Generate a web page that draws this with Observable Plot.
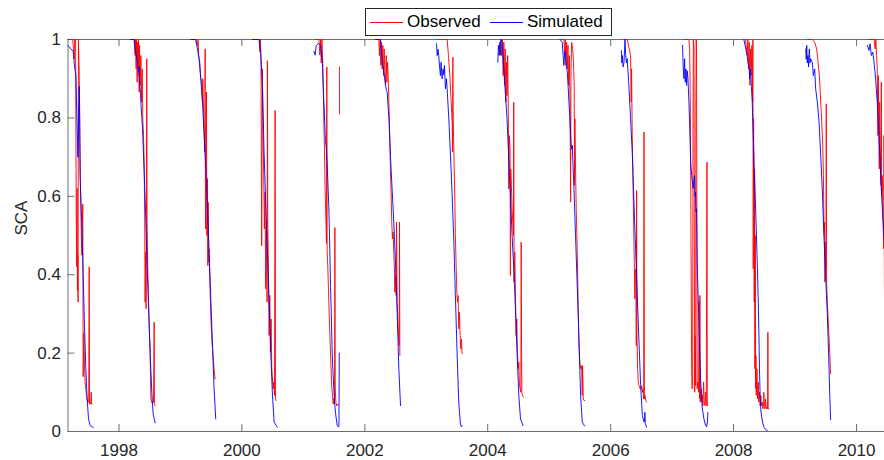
<!DOCTYPE html>
<html><head><meta charset="utf-8">
<script src="https://cdn.jsdelivr.net/npm/d3@7"></script>
<script src="https://cdn.jsdelivr.net/npm/@observablehq/plot@0.6"></script>
<style>
body{margin:0;background:#fff;}
#wrap{position:relative;width:884px;height:460px;font-family:"Liberation Sans",Arial,sans-serif;}
#legend{position:absolute;left:365px;top:8px;width:247px;height:28px;border:1px solid #262626;background:#fff;box-sizing:border-box;font-size:17px;color:#000;}
#legend .sw{position:absolute;top:13px;width:33px;height:0;border-top:1px solid;}
#legend .lb{position:absolute;top:3px;line-height:20px;}
</style></head>
<body><div id="wrap"><div id="legend">
<span class="sw" style="left:4px;border-color:#ff0000"></span><span class="lb" style="left:41px">Observed</span>
<span class="sw" style="left:124px;border-color:#0000ff"></span><span class="lb" style="left:161px">Simulated</span>
</div></div>
<script>
// [day of year, SCA] per melt season; null breaks a line
const seasons = [1997,1998,1999,2000,2001,2002,2003,2004,2005,2006,2007,2008,2009,2010];

const sim1997 = [[62,0.985],[79,0.976],[93,0.97],[101,0.93],[109,0.91],[115,0.8],[121,0.7],[125,0.8],[129,0.88],[134,0.65],[144,0.53],[152,0.4],[160,0.27],[168,0.16],[176,0.083],[184,0.032],[194,0.015],[212,0.01]];
const sim1998 = [[68,1],[90,1],[96,0.976],[110,0.942],[116,0.917],[120,0.93],[124,0.883],[128,0.86],[132,0.827],[140,0.772],[149,0.67],[159,0.55],[169,0.4],[179,0.28],[187,0.18],[195,0.1],[203,0.045],[215,0.022]];
const sim1999 = [[62,1],[91,1],[101,0.976],[111,0.951],[121,0.9],[131,0.84],[141,0.755],[151,0.67],[161,0.568],[170,0.466],[180,0.347],[190,0.228],[200,0.109],[210,0.032]];
const sim2000 = [[63,1],[103,1],[112,0.968],[122,0.883],[128,0.789],[132,0.713],[142,0.585],[152,0.457],[162,0.33],[172,0.202],[182,0.092],[192,0.024],[211,0.011]];
const sim2001 = [[62,0.97],[70,0.96],[76,0.985],[90,0.99],[102,0.985],[112,0.946],[121,0.844],[131,0.742],[137,0.717],[144,0.65],[151,0.572],[158,0.44],[161,0.37],[165,0.31],[171,0.2],[176,0.15],[181,0.105],[186,0.07],[191,0.046],[201,0.015],[207,0.012],[211,0.012],[213,0.2]];
const sim2002 = [[63,1],[93,1],[103,0.942],[108,0.93],[113,0.917],[118,0.9],[123,0.883],[128,0.87],[133,0.866],[138,0.83],[143,0.798],[152,0.704],[162,0.619],[172,0.534],[182,0.432],[192,0.304],[202,0.16],[212,0.066]];
const sim2003 = [[61,0.989],[65,0.959],[70,0.975],[74,0.959],[79,0.93],[84,0.908],[88,0.942],[94,0.9],[100,0.925],[104,0.91],[108,0.934],[114,0.874],[120,0.9],[124,0.874],[134,0.798],[143,0.713],[153,0.611],[164,0.483],[173,0.347],[183,0.202],[193,0.075],[203,0.02],[208,0.012],[213,0.015]];
const sim2004 = [[60,0.942],[64,0.985],[68,0.959],[72,0.993],[76,0.96],[80,1],[86,0.993],[90,0.97],[96,0.925],[106,0.857],[115,0.798],[125,0.696],[135,0.602],[145,0.5],[155,0.415],[165,0.313],[175,0.194],[185,0.092],[195,0.032],[210,0.015]];
const sim2005 = [[63,1],[77,0.993],[82,0.96],[87,0.934],[92,0.97],[97,0.959],[102,0.93],[107,0.917],[112,0.88],[117,0.84],[122,0.8],[127,0.755],[132,0.72],[137,0.73],[141,0.68],[146,0.628],[156,0.5],[166,0.372],[176,0.245],[186,0.092],[196,0.024],[210,0.014]];
const sim2006 = [[63,0.972],[66,0.94],[69,0.959],[74,0.93],[79,0.942],[85,1],[89,0.959],[94,0.94],[98,0.951],[108,0.883],[118,0.798],[128,0.713],[138,0.585],[148,0.466],[158,0.347],[168,0.228],[178,0.117],[188,0.041],[198,0.024],[201,0.03],[203,0.049],[206,0.02],[213,0.011]];
const sim2007 = [[62,0.985],[66,0.925],[70,0.9],[74,0.951],[78,0.891],[82,0.925],[86,0.883],[90,0.92],[94,0.9],[100,0.84],[106,0.755],[110,0.687],[116,0.653],[125,0.62],[129,0.64],[133,0.653],[136,0.6],[139,0.611],[142,0.56],[145,0.568],[149,0.43],[159,0.28],[169,0.134],[179,0.06],[189,0.032],[199,0.015],[205,0.012],[209,0.024],[213,0.049]];
const sim2008 = [[61,1],[71,0.98],[81,0.959],[86,0.94],[91,0.934],[96,0.9],[101,0.925],[106,0.88],[111,0.84],[117,0.755],[123,0.67],[130,0.585],[136,0.5],[142,0.415],[147,0.33],[151,0.245],[154,0.16],[158,0.092],[163,0.05],[172,0.024],[182,0.01],[195,0.003],[208,0]];
const sim2009 = [[63,0.976],[66,0.95],[69,0.985],[72,0.94],[76,0.959],[80,0.93],[84,0.976],[88,0.94],[92,0.951],[102,0.942],[108,0.908],[116,0.925],[122,0.874],[132,0.84],[142,0.789],[152,0.704],[162,0.611],[171,0.5],[181,0.398],[191,0.3],[201,0.17],[206,0.09],[211,0.03]];
const sim2010 = [[64,0.985],[74,0.972],[80,0.989],[88,0.959],[96,0.968],[104,0.942],[113,0.9],[123,0.84],[133,0.755],[143,0.653],[153,0.568],[163,0.5],[171,0.449]];

const obs1997 = [[62,1],[90,1],[99,0.95],[101,1],[107,1],[111,0.55],[114,0.42],[116,0.62],[118,0.36],[120,0.45],[122,0.33],[124,1],[128,0.93],[132,0.8],[136,0.62],[140,0.52],[144,0.45],[150,0.58],[152,0.14],[156,0.25],[160,0.17],[164,0.12],[168,0.11],[172,0.09],[176,0.08],[180,0.075],[185,0.075],[188,0.42],[190,0.07],[196,0.07],[200,0.1],[202,0.07],[205,0.07]];
const obs1998 = [[70,1],[90,1],[96,0.959],[98,1],[102,0.925],[104,1],[108,0.891],[110,0.993],[114,0.908],[116,1],[120,0.866],[122,0.985],[126,0.883],[130,0.959],[134,0.84],[138,0.925],[142,0.789],[146,0.755],[150,0.67],[153,0.534],[155,0.33],[159,0.457],[161,0.313],[163,0.551],[165,0.951],[167,0.534],[171,0.415],[175,0.347],[179,0.27],[185,0.202],[189,0.092],[193,0.075],[199,0.071],[205,0.075],[209,0.279],[211,0.071],[215,0.066]];
const obs1999 = [[62,1],[91,1],[101,0.985],[105,1],[109,0.959],[115,0.942],[121,0.9],[127,0.891],[131,0.84],[133,0.9],[139,0.798],[145,0.713],[147,0.976],[149,0.517],[153,0.713],[155,0.866],[157,0.5],[161,0.645],[163,0.423],[165,0.585],[167,0.432],[170,0.466],[176,0.364],[182,0.279],[188,0.228],[194,0.194],[200,0.16],[206,0.134]];
const obs2000 = [[73,1],[103,1],[107,0.968],[110,1],[114,0.942],[118,0.474],[122,0.925],[126,0.755],[130,0.653],[134,0.517],[138,0.611],[142,0.364],[146,0.534],[150,0.33],[152,0.946],[154,0.534],[158,0.415],[162,0.245],[166,0.347],[170,0.202],[174,0.287],[178,0.16],[182,0.134],[186,0.109],[190,0.126],[194,0.092],[198,0.819],[200,0.083],[204,0.079]];
const obs2001 = [[72,1],[92,1],[98,0.96],[102,1],[106,0.94],[110,1],[114,0.95],[118,0.88],[121,0.8],[125,0.72],[129,0.62],[133,0.55],[137,0.48],[139,0.93],[141,0.46],[145,0.42],[149,0.36],[153,0.3],[157,0.25],[161,0.2],[165,0.15],[169,0.11],[173,0.09],[177,0.07],[181,0.085],[185,0.07],[187,0.52],[189,0.11],[193,0.075],[197,0.066],[201,0.07],[207,0.066],[210,null],[214,0.93],[215,0.81]];
const obs2002 = [[69,1],[83,1],[87,0.959],[91,1],[95,0.934],[99,0.993],[103,0.925],[107,0.985],[111,0.908],[115,0.976],[119,0.917],[123,0.883],[127,0.959],[131,0.891],[135,0.942],[139,0.9],[143,0.84],[148,0.755],[152,0.67],[156,0.611],[160,0.534],[164,0.491],[168,0.509],[172,0.457],[176,0.415],[178,0.355],[182,0.398],[186,0.347],[188,0.534],[192,0.33],[196,0.287],[200,0.245],[204,0.219],[206,0.534],[208,0.194]];
const obs2003 = [[65,1],[124,1],[132,0.959],[140,0.908],[148,0.84],[154,0.789],[156,0.713],[158,0.955],[160,0.798],[164,0.713],[166,0.67],[170,0.585],[173,0.5],[177,0.432],[181,0.364],[185,0.33],[189,0.347],[193,0.262],[197,0.304],[201,0.245],[205,0.211],[209,0.236],[213,0.198]];
const obs2004 = [[76,1],[82,0.959],[86,1],[92,0.908],[96,0.993],[100,0.883],[104,0.976],[108,0.84],[111,0.942],[115,0.857],[119,0.959],[123,0.798],[125,0.619],[129,0.755],[133,0.721],[135,0.398],[137,0.67],[141,0.628],[145,0.568],[149,0.534],[153,0.5],[155,0.84],[157,0.381],[161,0.457],[165,0.347],[169,0.245],[173,0.287],[177,0.202],[181,0.16],[185,0.177],[189,0.117],[193,0.109],[197,0.1],[199,0.483],[201,0.228],[203,0.1],[207,0.092],[211,0.088]];
const obs2005 = [[67,1],[87,1],[91,0.959],[95,1],[99,0.934],[103,0.993],[107,0.925],[111,0.985],[115,0.883],[119,0.959],[123,0.84],[127,0.585],[129,0.925],[133,0.993],[139,0.976],[144,0.942],[148,0.883],[150,0.628],[152,0.798],[156,0.67],[160,0.568],[164,0.5],[168,0.415],[172,0.313],[176,0.219],[180,0.185],[184,0.168],[188,0.16],[192,0.168],[196,0.092],[198,0.168],[202,0.083],[206,0.079],[210,0.079]];
const obs2006 = [[75,1],[98,1],[106,0.985],[114,0.968],[118,0.959],[122,0.84],[124,0.925],[128,0.755],[132,0.653],[136,0.543],[140,0.432],[144,0.338],[146,0.406],[150,0.415],[152,0.219],[154,0.615],[156,0.245],[160,0.16],[164,0.126],[168,0.117],[174,0.109],[180,0.109],[184,0.117],[188,0.1],[192,0.109],[196,0.083],[198,0.764],[200,0.083],[204,0.092],[208,0.079],[213,0.075]];
const obs2007 = [[74,1],[100,1],[104,0.976],[108,0.84],[110,0.687],[112,0.5],[114,0.33],[116,0.16],[118,0.109],[122,0.117],[124,0.755],[126,1],[130,0.985],[132,0.5],[134,0.1],[136,0.245],[140,0.117],[141,0.84],[143,1],[145,0.976],[147,0.585],[149,0.109],[153,0.126],[157,0.1],[161,0.33],[163,0.083],[165,0.347],[167,0.075],[171,0.109],[175,0.075],[179,0.092],[183,0.066],[187,0.126],[191,0.075],[195,0.066],[199,0.1],[203,0.066],[207,0.687],[209,0.066],[213,0.066]];
const obs2008 = [[71,1],[81,0.959],[85,1],[89,0.925],[93,0.993],[97,0.883],[101,0.976],[105,0.908],[109,0.985],[113,0.84],[115,1],[117,0.415],[119,0.798],[121,0.585],[123,0.33],[125,0.67],[127,0.16],[129,0.5],[131,0.109],[133,0.194],[135,0.092],[139,0.16],[143,0.083],[147,0.126],[150,0.075],[154,0.1],[158,0.066],[162,0.092],[166,0.066],[170,0.075],[174,0.058],[178,0.066],[180,0.1],[184,0.058],[188,0.062],[190,0.083],[194,0.058],[198,0.062],[202,0.058],[204,0.253],[206,0.058],[210,0.058]];
const obs2009 = [[72,1],[102,1],[116,0.993],[128,0.976],[136,0.942],[144,0.908],[152,0.84],[158,0.789],[164,0.73],[168,0.653],[171,0.543],[173,0.5],[175,0.534],[177,0.381],[179,0.483],[183,0.415],[185,0.836],[187,0.381],[191,0.33],[195,0.3],[199,0.262],[203,0.228],[206,0.2],[209,0.16],[211,0.147]];
const obs2010 = [[74,1],[104,1],[110,0.976],[115,1],[119,0.959],[123,0.925],[127,0.755],[129,0.908],[133,0.772],[135,0.67],[137,0.84],[141,0.73],[145,0.628],[147,0.891],[149,0.602],[153,0.653],[157,0.543],[161,0.466],[163,0.755],[165,0.415],[167,0.245],[169,0.16]];

const simSeasons = [sim1997,sim1998,sim1999,sim2000,sim2001,sim2002,sim2003,sim2004,sim2005,sim2006,sim2007,sim2008,sim2009,sim2010];
const obsSeasons = [obs1997,obs1998,obs1999,obs2000,obs2001,obs2002,obs2003,obs2004,obs2005,obs2006,obs2007,obs2008,obs2009,obs2010];

const xTickYears = [1998,2000,2002,2004,2006,2008,2010];
const yTicks = [0,0.2,0.4,0.6,0.8,1];
const xStart = new Date(Date.UTC(1997,2,4));
const xEnd = new Date(Date.UTC(2010,5,16));

const toDate = (yr, doy) => new Date(Date.UTC(yr,0,1) + doy*864e5);
const flatten = (list) => list.flatMap((rows, i) => rows.map(([d, v]) => ({season: seasons[i], date: toDate(seasons[i], d), v})));
const sim = flatten(simSeasons);
const obs = flatten(obsSeasons);
const xTicks = xTickYears.map(y => new Date(Date.UTC(y,0,1)));

const W = 884, H = 460, mL = 67.5, mR = 0, mT = 39, mB = 29;
const plotH = H - mT - mB, plotW = W - mL - mR;
const axisColor = "#6e6e6e";

const chart = Plot.plot({
  width: W, height: H,
  marginLeft: mL, marginRight: mR, marginTop: mT, marginBottom: mB,
  style: {fontFamily: '"Liberation Sans", Arial, sans-serif', fontSize: "17px", color: "#262626", background: "white"},
  x: {type: "utc", domain: [xStart, xEnd]},
  y: {domain: [0, 1]},
  marks: [
    Plot.ruleY([0, 1], {stroke: axisColor, strokeWidth: 1}),
    Plot.ruleX([xStart], {stroke: axisColor, strokeWidth: 1}),
    Plot.tickX(xTicks, {x: d => d, insetTop: plotH - 7, stroke: axisColor}),
    Plot.tickX(xTicks, {x: d => d, insetBottom: plotH - 7, stroke: axisColor}),
    Plot.tickY(yTicks, {y: d => d, insetRight: plotW - 7, stroke: axisColor}),
    Plot.axisX(xTicks, {tickSize: 0, tickPadding: 12, tickFormat: d3.utcFormat("%Y"), label: null, fontSize: 17}),
    Plot.axisY(yTicks, {tickSize: 0, tickPadding: 7, tickFormat: d => String(+d.toFixed(1)), label: null, fontSize: 17}),
    Plot.text(["SCA"], {frameAnchor: "left", dx: -46, rotate: -90, fontSize: 17, fill: "#262626"}),
    Plot.line(obs, {x: "date", y: "v", z: "season", stroke: "#ff0000", strokeWidth: 0.9, clip: true}),
    Plot.line(sim, {x: "date", y: "v", z: "season", stroke: "#0000ff", strokeWidth: 0.9, clip: true})
  ]
});
document.getElementById("wrap").prepend(chart);
</script></body></html>
